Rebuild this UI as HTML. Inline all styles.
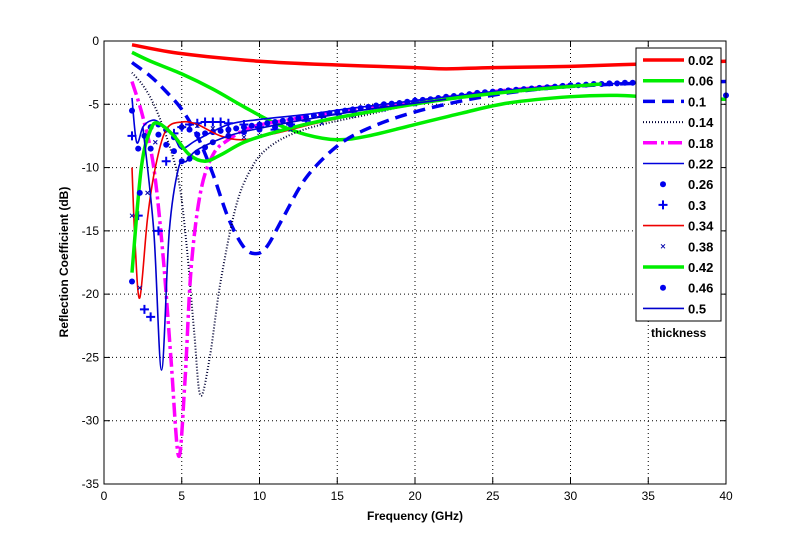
<!DOCTYPE html>
<html><head><meta charset="utf-8"><style>
body{margin:0;background:#fff;width:802px;height:544px;overflow:hidden;font-family:"Liberation Sans",Arial,sans-serif}
svg text{font-family:"Liberation Sans",Arial,sans-serif}
</style></head><body>
<svg id="chart" width="802" height="544" xmlns="http://www.w3.org/2000/svg">
<rect x="0" y="0" width="802" height="544" fill="#fff"/>
<g id="grid"></g>
<g id="series"></g>
<rect x="104" y="41" width="622" height="443" fill="none" stroke="#000" stroke-width="1"/>
<g id="ticks"></g>
<text x="415" y="520" font-size="12" font-weight="bold" text-anchor="middle">Frequency (GHz)</text>
<text x="68" y="262" font-size="12" font-weight="bold" text-anchor="middle" transform="rotate(-90 68 262)">Reflection Coefficient (dB)</text>
<g id="legend"></g>
<text x="651" y="337" font-size="12" font-weight="bold">thickness</text>
</svg>
<script>
const xTicks=[0,5,10,15,20,25,30,35,40];
const yTicks=[0,-5,-10,-15,-20,-25,-30,-35];
const seriesNames=["0.02","0.06","0.1","0.14","0.18","0.22","0.26","0.3","0.34","0.38","0.42","0.46","0.5"];
const f02=[1.8,5,10,15,20,22,25,30,35,40];
const s02=[-0.3,-1,-1.6,-1.9,-2.1,-2.2,-2.1,-2.0,-1.8,-1.6];
const f06=[1.8,3,5,7,9,11,13,15,17,20,23,26,30,33,36,40];
const s06=[-0.9,-1.6,-2.6,-3.8,-5.2,-6.5,-7.4,-7.8,-7.5,-6.6,-5.7,-4.9,-4.4,-4.3,-4.5,-4.6];
const f10=[1.8,3,4,5,6,7,8,9,9.8,10.5,11.5,13,15,17,20,24,28,33,40];
const s10=[-1.7,-2.8,-4,-5.4,-7.5,-10.5,-14,-16.3,-16.8,-16.2,-14,-10.8,-8.3,-6.9,-5.6,-4.5,-3.8,-3.4,-3.2];
const f14=[1.8,2.5,3.2,4,4.8,5.3,5.8,6.2,6.8,7.5,8.5,9.5,10.5,12,14,17,20,25,30];
const s14=[-2.5,-3.5,-5,-7.5,-11,-16,-23,-28,-25,-19,-13,-10,-8.5,-7.4,-6.6,-5.8,-5,-4.2,-3.6];
const f18=[1.8,2.5,3.2,3.8,4.3,4.8,5.2,5.6,6.2,7,8,9.5,12,15,20,25,30];
const s18=[-3.2,-6,-10,-17,-25,-32.8,-27,-18,-12,-9,-7.8,-6.8,-6.2,-5.6,-4.8,-4,-3.5];
const f22=[1.8,2.1,2.5,3,3.5,4.5,5,6,8,10,13,16,20,25,30,35];
const s22=[-4.5,-8,-6.8,-6.3,-6.4,-7.6,-8.5,-7.8,-6.6,-6.2,-5.8,-5.3,-4.7,-4,-3.5,-3.3];
const f26=[1.8,2.2,2.6,3,3.5,4,4.5,5,5.5,6,6.5,7,7.5,8,8.5,9,9.5,10,10.5,11,11.5,12,12.5,13,13.5,14,14.5,15,15.5,16,16.5,17,17.5,18,18.5,19,19.5,20,20.5,21,21.5,22,22.5,23,23.5,24,24.5,25,25.5,26,26.5,27,27.5,28,28.5,29,29.5,30,30.5,31,31.5,32,32.5,33,33.5,34,34.5,35,40];
const s26=[-5.5,-8.5,-7.5,-6.8,-6.6,-7,-7.6,-6.8,-7,-7.4,-7.3,-7.2,-7.1,-7,-6.9,-6.8,-6.7,-6.6,-6.5,-6.4,-6.3,-6.2,-6.1,-6,-5.9,-5.8,-5.7,-5.6,-5.5,-5.4,-5.3,-5.2,-5.1,-5,-4.95,-4.9,-4.8,-4.7,-4.65,-4.6,-4.5,-4.4,-4.35,-4.3,-4.2,-4.1,-4.05,-4,-3.95,-3.9,-3.85,-3.8,-3.75,-3.7,-3.65,-3.6,-3.55,-3.5,-3.5,-3.45,-3.4,-3.4,-3.35,-3.35,-3.3,-3.3,-3.3,-3.3,-4.3];
const f30=[1.8,2.2,2.6,3,3.5,4,4.5,5,5.5,6,6.5,7,7.5,8,9,10,11,12,13,14,15,16,18,20];
const s30=[-7.5,-13.8,-21.2,-21.8,-15,-9.5,-7.3,-6.8,-6.6,-6.5,-6.4,-6.4,-6.4,-6.5,-6.6,-6.8,-7,-6.6,-6.3,-6,-5.8,-5.6,-5.2,-4.8];
const f34=[1.8,2,2.3,2.8,3.3,4,5,6,7.5,9,11,14,18,22,28];
const s34=[-10,-16,-20.3,-14,-10,-7,-6.4,-6.6,-7.5,-7.8,-7.3,-6.4,-5.4,-4.6,-3.8];
const f38=[1.8,2.3,2.8,3.3,4,5,6,7,8,9,10,12,14,16,18,20];
const s38=[-13.8,-19.5,-12,-8,-7,-6.8,-6.7,-6.9,-7.3,-7.6,-7.5,-7,-6.5,-5.9,-5.4,-5];
const f42=[1.8,2.4,3,3.5,4.5,5.5,6.5,7.5,9,11,14,18,22,27,32];
const s42=[-18.3,-10,-7,-6.5,-7.5,-9,-9.5,-9,-8,-7.2,-6.3,-5.4,-4.6,-3.9,-3.4];
const f46=[1.8,2.3,3,3.5,4,4.5,5,5.5,6,6.5,7,8,9,10,11,12];
const s46=[-19,-12,-8.5,-7.4,-8.2,-8.7,-9.5,-9.3,-8.8,-8.4,-8,-7.5,-7.2,-7,-6.8,-6.6];
const f50=[2.5,3.2,3.7,4.2,4.8,5.3,6,8,10,13,17,22];
const s50=[-6.8,-15,-26,-15,-10,-9.5,-8.6,-7.5,-6.9,-6.2,-5.4,-4.6];

const xs=v=>104+v*(622/40);
const ys=v=>41-v*(443/35);
const NS="http://www.w3.org/2000/svg";
function mk(tag,attrs,parent){const e=document.createElementNS(NS,tag);for(const k in attrs)e.setAttribute(k,attrs[k]);parent.appendChild(e);return e;}
const grid=document.getElementById('grid'),ticks=document.getElementById('ticks'),ser=document.getElementById('series'),leg=document.getElementById('legend');
xTicks.forEach(t=>{
 if(t>0&&t<40){const l=mk('line',{x1:xs(t),x2:xs(t),y1:41,y2:484,stroke:'#000','stroke-width':1,'stroke-dasharray':'1,3'},grid);
 
 }
 mk('line',{x1:xs(t),x2:xs(t),y1:484,y2:478,stroke:'#000'},ticks);
 mk('line',{x1:xs(t),x2:xs(t),y1:41,y2:47,stroke:'#000'},ticks);
 const tx=mk('text',{x:xs(t),y:500,'font-size':12,'text-anchor':'middle'},ticks);tx.textContent=t;
 
 
});
yTicks.forEach(t=>{
 if(t<0&&t>-35){const l=mk('line',{x1:104,x2:726,y1:ys(t),y2:ys(t),stroke:'#000','stroke-width':1,'stroke-dasharray':'1,3'},grid);
 
 }
 mk('line',{x1:104,x2:110,y1:ys(t),y2:ys(t),stroke:'#000'},ticks);
 mk('line',{x1:726,x2:720,y1:ys(t),y2:ys(t),stroke:'#000'},ticks);
 const tx=mk('text',{x:99,y:ys(t)+4,'font-size':12,'text-anchor':'end'},ticks);tx.textContent=t;
 
 
});
function smoothPath(F,S){
 const p=F.map((f,i)=>[xs(f),ys(S[i])]);let d='M'+p[0][0]+','+p[0][1];
 for(let i=0;i<p.length-1;i++){const p0=p[Math.max(0,i-1)],p1=p[i],p2=p[i+1],p3=p[Math.min(p.length-1,i+2)];
  const c1=[p1[0]+(p2[0]-p0[0])/6,p1[1]+(p2[1]-p0[1])/6],c2=[p2[0]-(p3[0]-p1[0])/6,p2[1]-(p3[1]-p1[1])/6];
  d+=` C${c1[0]},${c1[1]} ${c2[0]},${c2[1]} ${p2[0]},${p2[1]}`;}
 return d;}
const styles=[
 {F:f02,S:s02,c:'#ff0000',w:3.5},{F:f06,S:s06,c:'#00ee00',w:3.5},{F:f10,S:s10,c:'#0000ee',w:3.5,da:'12,7'},
 {F:f14,S:s14,c:'#000033',w:2,da:'1,2'},{F:f18,S:s18,c:'#ff00ff',w:3.5,da:'14,4,3,4'},{F:f22,S:s22,c:'#0000dd',w:1.6},
 {F:f26,S:s26,c:'#0000ee',m:'dot'},{F:f30,S:s30,c:'#0000ee',m:'plus'},{F:f34,S:s34,c:'#ee0000',w:1.6},
 {F:f38,S:s38,c:'#0000aa',m:'x'},{F:f42,S:s42,c:'#00ee00',w:3.5},{F:f46,S:s46,c:'#0000ee',m:'dot'},{F:f50,S:s50,c:'#0000cc',w:1.6}];
function marker(type,x,y,c,parent){
 if(type==='dot'){mk('circle',{cx:x,cy:y,r:3,fill:c},parent);}
 else if(type==='plus'){mk('path',{d:`M${x-4.5},${y}H${x+4.5}M${x},${y-4.5}V${y+4.5}`,stroke:c,'stroke-width':2},parent);}
 else {mk('path',{d:`M${x-2},${y-2}L${x+2},${y+2}M${x-2},${y+2}L${x+2},${y-2}`,stroke:c,'stroke-width':1},parent);}
}
styles.forEach((s,i)=>{
 const g=mk('g',{},ser);
 
 
 if(s.m){s.F.forEach((f,j)=>marker(s.m,xs(f),ys(s.S[j]),s.c,g));}
 else{const a={d:smoothPath(s.F,s.S),fill:'none',stroke:s.c,'stroke-width':s.w,'stroke-linejoin':'round'};if(s.da)a['stroke-dasharray']=s.da;mk('path',a,g);}
});
const lb=mk('rect',{x:636,y:48,width:85,height:273,fill:'#fff',stroke:'#000','stroke-width':1},leg);


styles.forEach((s,i)=>{
 const y=60+i*20.7;const g=mk('g',{},leg);
 
 
 if(s.m)marker(s.m,663,y,s.c,g);
 else{const a={x1:643,x2:684,y1:y,y2:y,stroke:s.c,'stroke-width':s.w};if(s.da)a['stroke-dasharray']=s.da;mk('line',a,g);}
 const t=mk('text',{x:688,y:y+5,'font-size':13,'font-weight':'bold'},g);t.textContent=seriesNames[i];
});
</script>
</body></html>
